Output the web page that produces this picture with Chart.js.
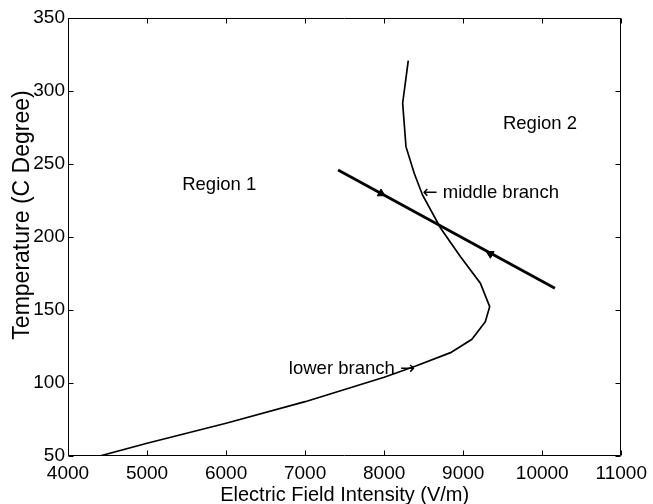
<!DOCTYPE html>
<html>
<head>
<meta charset="utf-8">
<style>
  html, body { margin: 0; padding: 0; background: #fff; }
  #wrap { width: 653px; height: 504px; }
</style>
<script src="https://cdn.jsdelivr.net/npm/chart.js@4/dist/chart.umd.min.js"></script>
</head>
<body>
<div id="wrap"><canvas id="c" width="653" height="504"></canvas></div>
<script>
// S-shaped equilibrium curve: electric field (V/m) vs temperature (C)
const fieldIntensity = [4400, 5000, 6000, 7000, 8000, 8400, 8840, 9110, 9280, 9335, 9217, 8966, 8715, 8485, 8380, 8276, 8234, 8305];
const temperature    = [50,   58.7, 72.4, 87.2, 103.9, 111.6, 120.8, 129.9, 142, 152.3, 168.3, 186.5, 206, 228.8, 243.6, 261.9, 291.6, 320.8];

// Straight operating line and its direction arrows
const loadLineField = [7417, 10160];
const loadLineTemp  = [245.9, 164.9];
const arrowField = [7961, 9343];
const arrowTemp  = [229.8, 188.5];

// Axis ticks
const xTicks = [4000, 5000, 6000, 7000, 8000, 9000, 10000, 11000];
const yTicks = [50, 100, 150, 200, 250, 300, 350];

// Text annotations placed in data coordinates
const noteTexts = ['Region 1', 'Region 2', '\u2190 middle branch', 'lower branch \u2192'];
const noteField = [5445, 9503, 8485, 8390];
const noteTemp  = [235.6, 277.4, 230.1, 109.5];
const noteAlign = ['left', 'left', 'left', 'right'];

const xTitle = 'Electric Field Intensity (V/m)';
const yTitle = 'Temperature (C Degree)';

const FONT = "'Liberation Sans', Arial, Helvetica, sans-serif";
const ARROW_FONT = "'DejaVu Sans', sans-serif";

const toPoints = (xs, ys) => xs.map((x, i) => ({ x: x, y: ys[i] }));

// Draws a label whose arrow glyphs use a font with full-size arrows
function drawNote(ctx, text, x, y, align) {
  const parts = text.split(/([\u2190\u2192])/).filter(s => s.length);
  const fontFor = s => (s === '\u2190' || s === '\u2192') ? '18px ' + ARROW_FONT : '18.5px ' + FONT;
  const widths = parts.map(s => { ctx.font = fontFor(s); return ctx.measureText(s).width; });
  const total = widths.reduce((a, b) => a + b, 0);
  let cx = align === 'right' ? x - total : x;
  ctx.textAlign = 'left';
  parts.forEach((s, i) => {
    ctx.font = fontFor(s);
    ctx.fillText(s, cx, y);
    cx += widths[i];
  });
}

// Frame, inward ticks, annotations and axis titles
const framePlugin = {
  id: 'frame',
  afterDraw(chart) {
    const ctx = chart.ctx;
    const a = chart.chartArea;
    const xs = chart.scales.x, ys = chart.scales.y;
    const L = Math.round(a.left) + 0.5, R = Math.round(a.right) - 0.5;
    const T = Math.round(a.top) + 0.5, B = Math.round(a.bottom) - 0.5;
    const tick = 5;
    ctx.save();
    ctx.strokeStyle = '#000';
    ctx.lineWidth = 1;
    ctx.beginPath();
    ctx.rect(L, T, R - L, B - T);
    xTicks.forEach(v => {
      const p = Math.round(xs.getPixelForValue(v)) + 0.5;
      ctx.moveTo(p, B); ctx.lineTo(p, B - tick);
      ctx.moveTo(p, T); ctx.lineTo(p, T + tick);
    });
    yTicks.forEach(v => {
      const p = Math.round(ys.getPixelForValue(v)) + 0.5;
      ctx.moveTo(L, p); ctx.lineTo(L + tick, p);
      ctx.moveTo(R, p); ctx.lineTo(R - tick, p);
    });
    ctx.stroke();

    ctx.fillStyle = '#000';
    ctx.textBaseline = 'middle';
    noteTexts.forEach((t, i) => {
      drawNote(ctx, t, xs.getPixelForValue(noteField[i]), ys.getPixelForValue(noteTemp[i]), noteAlign[i]);
    });

    ctx.textAlign = 'center';
    ctx.font = '20px ' + FONT;
    ctx.fillText(xTitle, (a.left + a.right) / 2, 495);

    ctx.save();
    ctx.translate(23, 215);
    ctx.rotate(-Math.PI / 2);
    ctx.font = '23px ' + FONT;
    ctx.fillText(yTitle, 0, 0);
    ctx.restore();
    ctx.restore();
  }
};

// Arrowheads point along the operating line towards the crossing
function arrowRotation(c) {
  const chart = c.chart;
  const xs = chart.scales.x, ys = chart.scales.y;
  if (!xs || !ys) return 0;
  const dx = xs.getPixelForValue(loadLineField[1]) - xs.getPixelForValue(loadLineField[0]);
  const dy = ys.getPixelForValue(loadLineTemp[1]) - ys.getPixelForValue(loadLineTemp[0]);
  const ang = Math.atan2(dy, dx) * 180 / Math.PI + 90;
  return c.dataIndex === 0 ? ang : ang + 180;
}

new Chart(document.getElementById('c'), {
  type: 'scatter',
  data: {
    datasets: [
      {
        label: 'equilibrium curve',
        data: toPoints(fieldIntensity, temperature),
        showLine: true,
        borderColor: '#000',
        borderWidth: 1.7,
        pointRadius: 0,
        tension: 0
      },
      {
        label: 'operating line',
        data: toPoints(loadLineField, loadLineTemp),
        showLine: true,
        borderColor: '#000',
        borderWidth: 2.8,
        pointRadius: 0,
        tension: 0
      },
      {
        label: 'direction',
        data: toPoints(arrowField, arrowTemp),
        showLine: false,
        pointStyle: 'triangle',
        pointRadius: 4.5,
        pointBackgroundColor: '#000',
        pointBorderColor: '#000',
        pointBorderWidth: 1,
        pointRotation: arrowRotation
      }
    ]
  },
  options: {
    responsive: false,
    animation: false,
    devicePixelRatio: 1,
    layout: { padding: { left: 0, top: 18, right: 28, bottom: 0 } },
    plugins: {
      legend: { display: false },
      tooltip: { enabled: false }
    },
    scales: {
      x: {
        type: 'linear',
        min: 4000,
        max: 11000,
        grid: { display: false, drawTicks: false },
        border: { display: false },
        afterBuildTicks: s => { s.ticks = xTicks.map(v => ({ value: v })); },
        afterFit: s => { s.height = 48; },
        ticks: {
          color: '#000',
          padding: 6,
          maxRotation: 0,
          font: { family: FONT, size: 19 },
          callback: v => String(v)
        }
      },
      y: {
        type: 'linear',
        min: 50,
        max: 350,
        grid: { display: false, drawTicks: false },
        border: { display: false },
        afterBuildTicks: s => { s.ticks = yTicks.map(v => ({ value: v })); },
        afterFit: s => { s.width = 68; },
        ticks: {
          color: '#000',
          padding: 3,
          font: { family: FONT, size: 19 },
          callback: v => String(v)
        }
      }
    }
  },
  plugins: [framePlugin]
});
</script>
</body>
</html>
